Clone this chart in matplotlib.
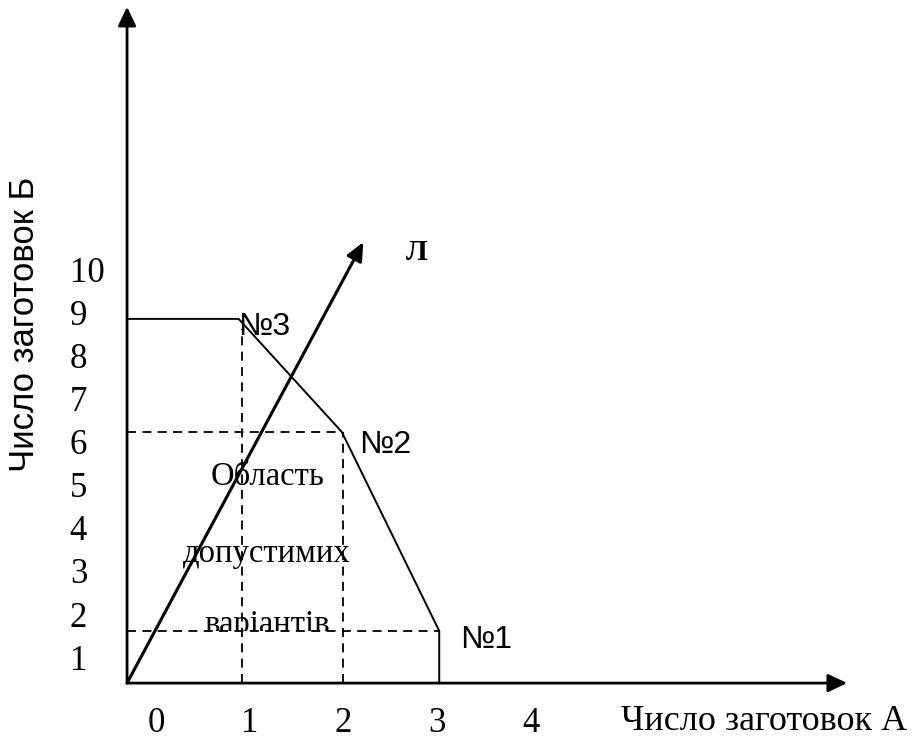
import matplotlib
matplotlib.use("Agg")
import matplotlib.pyplot as plt
from matplotlib.transforms import Bbox, TransformedBbox

# data (in chart units)
x_ticks = [0, 1, 2, 3, 4]
y_ticks = [1, 2, 3, 4, 5, 6, 7, 8, 9, 10]
origin = (-0.31, 0.49)
region_x = [-0.31, 0.88, 1.98, 3.02, 3.02]
region_y = [8.94, 8.94, 6.32, 1.70, 0.49]
vertex_names = ["№3", "№2", "№1"]
guide_x = [0.92, 1.99]
guide_y = [6.32, 1.70]
target_tip = (2.21, 10.72)

serif = ["Liberation Serif", "DejaVu Serif"]
sans = ["Liberation Sans", "DejaVu Sans"]

fig = plt.figure(figsize=(9.17, 7.38), dpi=100)
ax = fig.add_axes([0, 0, 1, 1])
ax.set_xlim(-1.665, 8.116)
ax.set_ylim(-0.784, 16.339)
ax.axis("off")

ox, oy = origin

# axes with arrows
arrow = dict(arrowstyle="-|>,head_length=1.15,head_width=0.55", lw=2.0,
             color="black", shrinkA=0, shrinkB=0)
ax.annotate("", xy=(ox, 16.18), xytext=(ox, oy), arrowprops=arrow)
ax.annotate("", xy=(7.37, oy), xytext=(ox, oy), arrowprops=arrow)

# dashed guides
dash = dict(color="black", lw=1.3, dashes=(5, 3.5))
ax.plot([guide_x[0], guide_x[0]], [oy, 8.7], **dash)
ax.plot([guide_x[1], guide_x[1]], [oy, guide_y[0]], **dash)
ax.plot([ox, region_x[2]], [guide_y[0], guide_y[0]], **dash)
ax.plot([ox, region_x[3]], [guide_y[1], guide_y[1]], **dash)

# feasible region border
ax.plot(region_x, region_y, color="black", lw=1.4)

# objective direction
ax.annotate("", xy=target_tip, xytext=(ox, oy),
            arrowprops=dict(arrowstyle="-|>,head_length=1.1,head_width=0.5",
                            lw=2.2, color="black", shrinkA=0, shrinkB=0))
ax.text(2.78, 10.49, "Л", family=serif, fontsize=21, fontweight="bold",
        ha="center", va="center")

# vertex labels
ax.text(0.875, 8.75, vertex_names[0], family=sans, fontsize=23, ha="left", va="center")
ax.text(2.16, 6.01, vertex_names[1], family=sans, fontsize=23, ha="left", va="center")
ax.text(3.24, 1.49, vertex_names[2], family=sans, fontsize=23, ha="left", va="center")

# region caption
ax.text(1.19, 5.27, "Область", family=serif, fontsize=23.5, ha="center", va="center")
ax.text(1.18, 3.5, "допустимих", family=serif, fontsize=23.5, ha="center", va="center")
t = ax.text(1.18, 1.85, "варіантів", family=serif, fontsize=23.5, ha="center",
            va="center", clip_on=True)
t.set_clip_box(TransformedBbox(Bbox([[ox, guide_y[1]], [5, 10]]), ax.transData))

# tick labels
for v in x_ticks:
    ax.text(v, -0.44, str(v), family=serif, fontsize=25, ha="center", va="center")
for v in y_ticks:
    ax.text(-0.92, v, str(v), family=serif, fontsize=25, ha="left", va="center")

ax.text(6.49, -0.40, "Число заготовок А", family=serif, fontsize=26,
        ha="center", va="center")
ax.text(-1.40, 8.82, "Число заготовок Б", family=sans, fontsize=25,
        rotation=90, ha="center", va="center")

fig.savefig("out.png", dpi=100)
